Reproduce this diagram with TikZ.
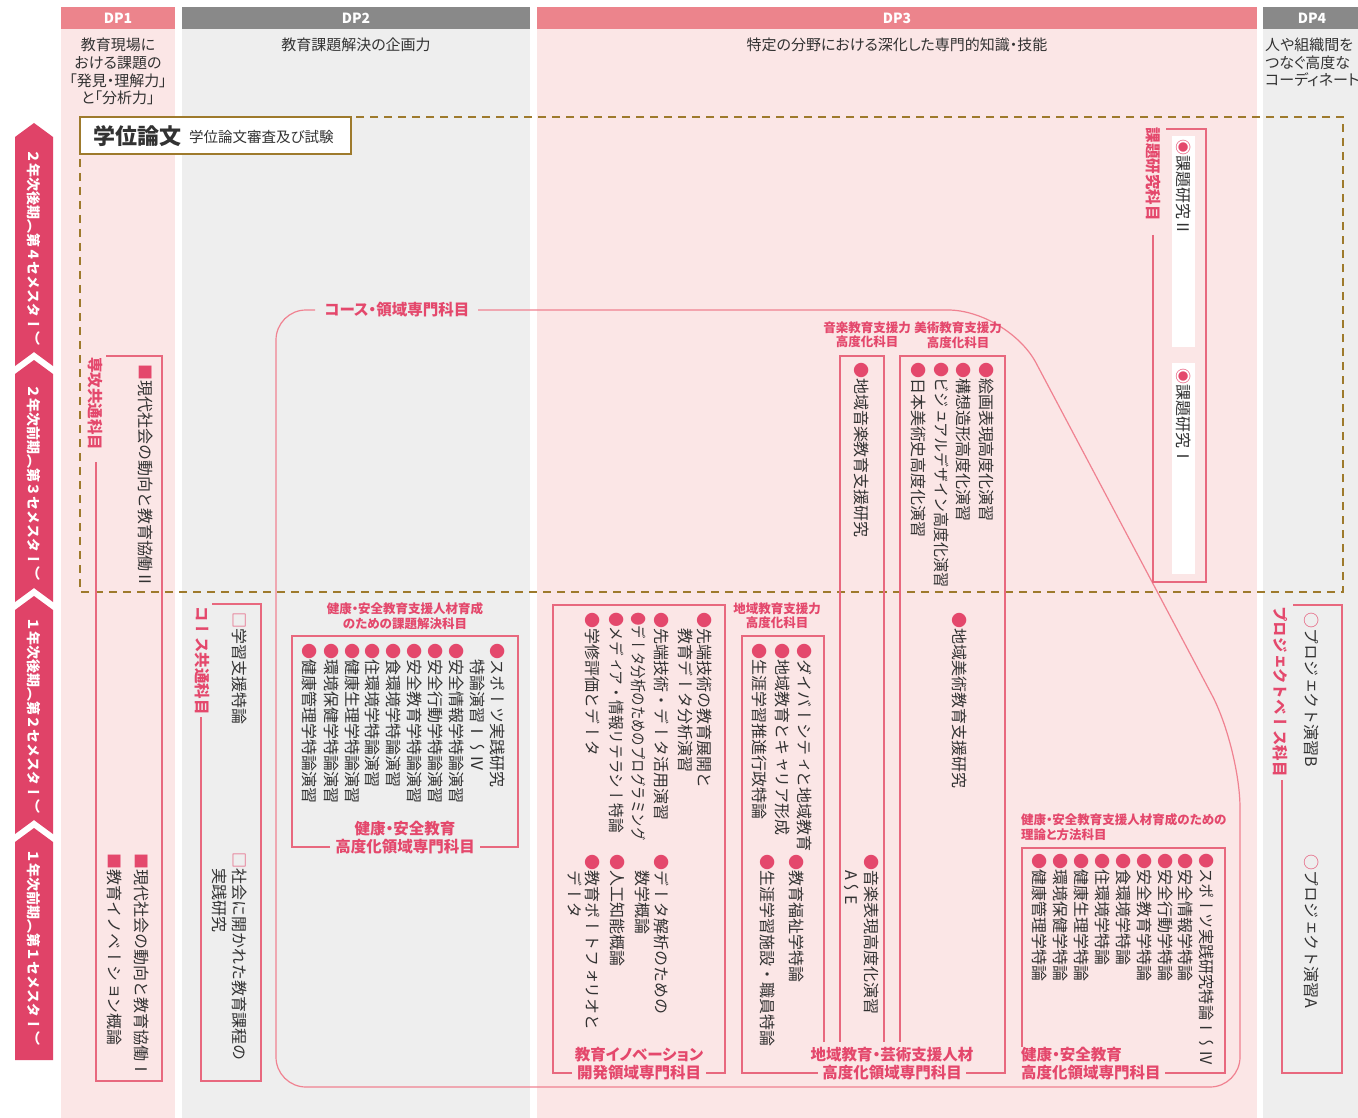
\documentclass[tikz,border=0pt]{standalone}
\usepackage{fontspec}
\usepackage{graphicx}
\newfontfamily\jp{Noto Sans CJK JP}[RawFeature={+palt}]
\newfontfamily\vjp{Noto Sans CJK JP}[Vertical=RotatedGlyphs,RawFeature={+vert}]
\definecolor{hdrpink}{RGB}{236,132,140}
\definecolor{bodypink}{RGB}{251,230,230}
\definecolor{hdrgray}{RGB}{137,137,137}
\definecolor{bodygray}{RGB}{238,238,238}
\definecolor{semred}{RGB}{224,67,104}
\definecolor{thesisbrown}{RGB}{158,122,44}
\definecolor{lblred}{RGB}{228,72,108}
\definecolor{boxline}{RGB}{232,104,126}
\definecolor{roundline}{RGB}{240,130,145}
\definecolor{txt}{RGB}{50,50,50}
\newcommand\Bul{\textcolor{lblred}{●}}
\newcommand\Sqr{\textcolor{lblred}{■}}
\newcommand\OSqr{\textcolor{lblred}{□}}
\newcommand\OCir{\textcolor{lblred}{○}}
\newcommand\FEye{\textcolor{lblred}{◉}}
\newcommand\fsz[1]{\fontsize{#1}{#1}\selectfont}
\tikzset{
  vt/.style={rotate=-90, anchor=west, inner sep=0pt, outer sep=0pt, text=txt, font={\vjp\fsz{16}}},
  vlbl/.style={vt, text=lblred, font={\vjp\bfseries\fsz{15.5}}},
  vsem/.style={rotate=-90, anchor=center, inner sep=0pt, text=white, font={\vjp\bfseries\fsz{14}}},
  hsmall/.style={inner sep=0pt, text=lblred, align=center, font={\jp\bfseries\fontsize{12.5}{14.5}\selectfont}},
  hbig/.style={inner sep=0pt, text=lblred, align=center, font={\jp\bfseries\fontsize{15.5}{18}\selectfont}},
  dptext/.style={inner sep=0pt, text=txt, align=center, font={\jp\fontsize{15}{17.7}\selectfont}},
  dphead/.style={inner sep=0pt, text=white, font={\jp\bfseries\fsz{14}}},
  bx/.style={draw=boxline, line width=1.2pt},
}
\newcommand\vc[4]{\node[vt] (#1) at (#2,#3) {#4};}
\begin{document}
\begin{tikzpicture}[x=1pt,y=-1pt]
\useasboundingbox (0,0) rectangle (1358,1118);
\fill[white] (0,0) rectangle (1358,1118);
% columns
\fill[hdrpink] (61,7) rectangle (175,29);
\fill[bodypink] (61,29) rectangle (175,1118);
\fill[hdrgray] (182,7) rectangle (530,29);
\fill[bodygray] (182,29) rectangle (530,1118);
\fill[hdrpink] (537,7) rectangle (1257,29);
\fill[bodypink] (537,29) rectangle (1257,1118);
\fill[hdrgray] (1263,7) rectangle (1358,29);
\fill[bodygray] (1263,29) rectangle (1358,1118);
\node[dphead] (dp1) at (118,18) {DP1};
\node[dphead] (dp2) at (356,18) {DP2};
\node[dphead] (dp3) at (897,18) {DP3};
\node[dphead] (dp4) at (1312,18) {DP4};
\node[dptext] (dp1t) at (118,71.5) {教育現場に\\おける課題の\\「発見・理解力」\\と「分析力」};
\node[dptext] (dp2t) at (356,45) {教育課題解決の企画力};
\node[dptext] (dp3t) at (897,45) {特定の分野における深化した専門的知識・技能};
\node[dptext, align=left, anchor=west] (dp4t) at (1265,62.5) {人や組織間を\\つなぐ高度な\\コーディネート力};
% semester bar
\fill[semred] (15,137) -- (34,123) -- (53,137) -- (53,366) -- (34,352) -- (15,366) -- cycle;
\fill[semred] (15,374) -- (34,360) -- (53,374) -- (53,602) -- (34,588) -- (15,602) -- cycle;
\fill[semred] (15,610) -- (34,596) -- (53,610) -- (53,834) -- (34,820) -- (15,834) -- cycle;
\fill[semred] (15,842) -- (34,828) -- (53,842) -- (53,1060) -- (15,1060) -- cycle;
\node[vsem] (s4) at (34,248) {２年次後期（第４セメスター）};
\node[vsem] (s3) at (34,482) {２年次前期（第３セメスター）};
\node[vsem] (s2) at (34,715) {１年次後期（第２セメスター）};
\node[vsem] (s1) at (34,947) {１年次前期（第１セメスター）};
% thesis dashed box
\draw[thesisbrown, line width=1.8pt, dash pattern=on 8pt off 6pt] (80,117) rectangle (1343,592);
\draw[thesisbrown, line width=2pt, fill=white] (80,117) rectangle (351,154);
\node[anchor=west, inner sep=0pt, text=txt, font={\jp\bfseries\fsz{22}}] (gakui) at (93,136) {学位論文};
\node[anchor=west, inner sep=0pt, text=txt, font={\jp\fsz{14.5}}] (shinsa) at (189,137) {学位論文審査及び試験};
% big rounded course box
\draw[roundline, line width=1.2pt, rounded corners=30pt] (315,310) -- (276,310) -- (276,1087) -- (1240,1087) [rounded corners=60pt] -- (1240,748) -- (1008,310) -- (478,310);
\node[hbig] (course) at (397,310) {コース・領域専門科目};
% DP1 box
\draw[bx] (96,462) -- (96,1081) -- (162,1081) -- (162,356) -- (106,356);
\node[vlbl] (senko) at (95,357) {専攻共通科目};
\vc{g2}{146}{364}{\Sqr 現代社会の動向と教育協働Ⅱ}
\vc{g1}{142}{853}{\Sqr 現代社会の動向と教育協働Ⅰ}
\vc{inno}{115}{853}{\Sqr 教育イノベーション概論}
% DP2 course common
\draw[bx] (201,717) -- (201,1081) -- (261,1081) -- (261,604) -- (212,604);
\node[vlbl] (coursecommon) at (202,606) {コース共通科目};
\vc{gakushu}{240}{612}{\OSqr 学習支援特論}
\vc{shakai}{240}{852}{\OSqr 社会に開かれた教育課程の}
\vc{jissen}{220}{868}{実践研究}
% health 1
\draw[bx] (330,847) -- (292,847) -- (292,636) -- (518,636) -- (518,847) -- (480,847);
\node[hsmall] (h1top) at (405,616) {健康・安全教育支援人材育成\\のための課題解決科目};
\vc{ha1}{498}{643}{\Bul スポーツ実践研究}
\vc{ha1b}{478}{659}{特論演習Ⅰ～Ⅳ}
\vc{ha2}{457}{643}{\Bul 安全情報学特論演習}
\vc{ha3}{436}{643}{\Bul 安全行動学特論演習}
\vc{ha4}{415}{643}{\Bul 安全教育学特論演習}
\vc{ha5}{394}{643}{\Bul 食環境学特論演習}
\vc{ha6}{373}{643}{\Bul 住環境学特論演習}
\vc{ha7}{353}{643}{\Bul 健康生理学特論演習}
\vc{ha8}{332}{643}{\Bul 環境保健学特論演習}
\vc{ha9}{310}{643}{\Bul 健康管理学特論演習}
\node[hbig] (h1bot) at (405,838) {健康・安全教育\\高度化領域専門科目};
% innovation
\draw[bx] (572,1073) -- (553,1073) -- (553,605) -- (725,605) -- (725,1073) -- (706,1073);
\vc{in1}{705}{612}{\Bul 先端技術の教育展開と}
\vc{in1b}{686}{628}{教育データ分析演習}
\vc{in2}{662}{612}{\Bul 先端技術・データ活用演習}
\node[vt] (in3) at (639,612) {\scalebox{0.84}[1]{\Bul データ分析のためのプログラミング}};
\node[vt] (in4) at (617,612) {\scalebox{0.92}[1]{\Bul メディア・情報リテラシー特論}};
\vc{in5}{593}{612}{\Bul 学修評価とデータ}
\vc{in6}{662}{854}{\Bul データ解析のための}
\vc{in6b}{643}{870}{数学概論}
\vc{in7}{618}{854}{\Bul 人工知能概論}
\vc{in8}{593}{854}{\Bul 教育ポートフォリオと}
\vc{in8b}{575}{870}{データ}
\node[hbig] (inbot) at (639,1064) {教育イノベーション\\開発領域専門科目};
% chiiki / music / art
\draw[bx] (824,1042) -- (824,636) -- (742,636) -- (742,1073) -- (818,1073);
\draw[bx] (966,1073) -- (1005,1073) -- (1005,356) -- (900,356) -- (900,1042);
\draw[bx] (840,1042) -- (840,356) -- (884,356) -- (884,1042);
\node[hsmall] (chtop) at (777,616) {地域教育支援力\\高度化科目};
\vc{ch1}{805}{643}{\Bul ダイバーシティと地域教育}
\vc{ch2}{783}{643}{\Bul 地域教育とキャリア形成}
\vc{ch3}{760}{643}{\Bul 生涯学習推進行政特論}
\vc{ch4}{797}{854}{\Bul 教育福祉学特論}
\vc{ch5}{768}{854}{\Bul 生涯学習施設・職員特論}
\node[hsmall] (mutop) at (867,335) {音楽教育支援力\\高度化科目};
\vc{mu1}{862}{362}{\Bul 地域音楽教育支援研究}
\vc{mu2}{872}{854}{\Bul 音楽表現高度化演習}
\vc{mu2b}{852}{870}{A～E}
\node[hsmall] (arttop) at (958,335) {美術教育支援力\\高度化科目};
\vc{ar1}{987}{362}{\Bul 絵画表現高度化演習}
\vc{ar2}{964}{362}{\Bul 構想造形高度化演習}
\node[vt] (ar3) at (942,362) {\scalebox{0.94}[1]{\Bul ビジュアルデザイン高度化演習}};
\vc{ar4}{919}{362}{\Bul 日本美術史高度化演習}
\vc{ar5}{960}{612}{\Bul 地域美術教育支援研究}
\node[hbig] (chbot) at (892,1064) {地域教育・芸術支援人材\\高度化領域専門科目};
% health 2
\draw[bx] (1022,1047) -- (1022,848) -- (1225,848) -- (1225,1073) -- (1165,1073);
\node[hsmall, align=left, anchor=west] (h2top) at (1021,827) {健康・安全教育支援人材育成のための\\理論と方法科目};
\node[vt] (hb1) at (1207,853) {\scalebox{0.95}[1]{\Bul スポーツ実践研究特論Ⅰ～Ⅳ}};
\vc{hb2}{1186}{853}{\Bul 安全情報学特論}
\vc{hb3}{1166}{853}{\Bul 安全行動学特論}
\vc{hb4}{1145}{853}{\Bul 安全教育学特論}
\vc{hb5}{1124}{853}{\Bul 食環境学特論}
\vc{hb6}{1103}{853}{\Bul 住環境学特論}
\vc{hb7}{1082}{853}{\Bul 健康生理学特論}
\vc{hb8}{1061}{853}{\Bul 環境保健学特論}
\vc{hb9}{1040}{853}{\Bul 健康管理学特論}
\node[hbig, align=left, anchor=west] (h2bot) at (1021,1064) {健康・安全教育\\高度化領域専門科目};
% kadai kenkyu
\fill[white] (1172,136) rectangle (1195,347);
\fill[white] (1172,363) rectangle (1195,574);
\draw[bx] (1153,235) -- (1153,582) -- (1206,582) -- (1206,129) -- (1166,129);
\node[vlbl] (kadai) at (1153,128) {課題研究科目};
\vc{k2}{1184}{140}{\FEye 課題研究Ⅱ}
\vc{k1}{1184}{368}{\FEye 課題研究Ⅰ}
% project
\draw[bx] (1282,780) -- (1282,1073) -- (1342,1073) -- (1342,605) -- (1293,605);
\node[vlbl] (proj) at (1280,606) {プロジェクトベース科目};
\vc{pb}{1312}{612}{\OCir プロジェクト演習B}
\vc{pa}{1312}{854}{\OCir プロジェクト演習A}
\end{tikzpicture}
\end{document}
